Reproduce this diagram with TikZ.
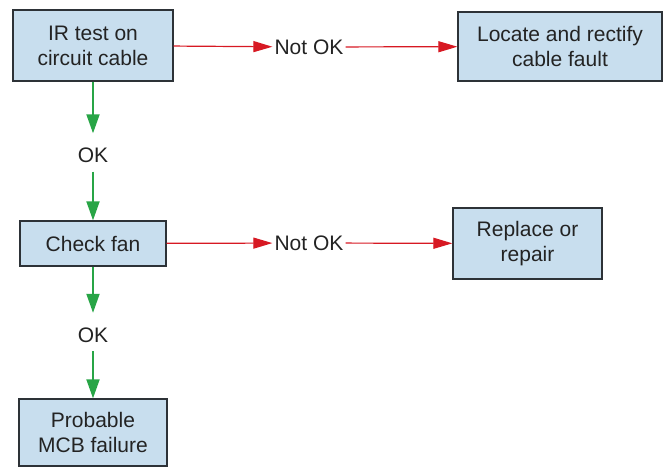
\documentclass[tikz,border=0pt]{standalone}
\usepackage{fontspec}
\setmainfont{Liberation Sans}
\usepackage{xcolor}
\usetikzlibrary{arrows.meta, positioning}
\definecolor{boxblue}{RGB}{200, 222, 238}
\definecolor{boxline}{RGB}{45, 50, 55}
\definecolor{textgray}{RGB}{35, 35, 35}
\definecolor{faultred}{RGB}{215, 25, 35}
\definecolor{passgreen}{RGB}{40, 165, 70}

\begin{document}
\begin{tikzpicture}[
    x=1pt, y=-1pt,
    stepbox/.style={rectangle, draw=boxline, line width=1.3pt, fill=boxblue, align=center, font=\fontsize{21}{25}\selectfont, text=textgray, inner sep=0pt},
    result/.style={font=\fontsize{21}{25}\selectfont, text=textgray, inner sep=2pt},
    notok/.style={-{Triangle[length=19pt, width=11pt]}, line width=1.2pt, faultred},
    okline/.style={-{Triangle[length=19pt, width=13pt]}, line width=1.8pt, passgreen}
]
\useasboundingbox (0,0) rectangle (663,468);

% Boxes
\node[stepbox, minimum width=160pt, minimum height=71pt] (irtest) at (93,45.5) {IR test on\\circuit cable};
\node[stepbox, minimum width=204pt, minimum height=69pt] (locate) at (560,46.5) {Locate and rectify\\cable fault};
\node[stepbox, minimum width=146pt, minimum height=45pt] (fan) at (93,243.5) {Check fan};
\node[stepbox, minimum width=149pt, minimum height=71pt] (replace) at (527.5,243.5) {Replace or\\repair};
\node[stepbox, minimum width=148pt, minimum height=67pt] (mcb) at (93,432.5) {Probable\\MCB failure};

% Outcomes
\node[result] (notok1) at (309,47) {Not OK};
\node[result] (notok2) at (309,243) {Not OK};
\node[result, minimum height=32pt] (ok1) at (93,155.5) {OK};
\node[result, minimum height=32pt] (ok2) at (93,335) {OK};

% Arrows
\draw[notok] (irtest) -- (notok1);
\draw[notok] (notok1) -- (locate);
\draw[notok] (fan) -- (notok2);
\draw[notok] (notok2) -- (replace);
\draw[okline, shorten >=6pt] (irtest) -- (ok1);
\draw[okline] (ok1) -- (fan);
\draw[okline, shorten >=6pt] (fan) -- (ok2);
\draw[okline] (ok2) -- (mcb);
\end{tikzpicture}
\end{document}
